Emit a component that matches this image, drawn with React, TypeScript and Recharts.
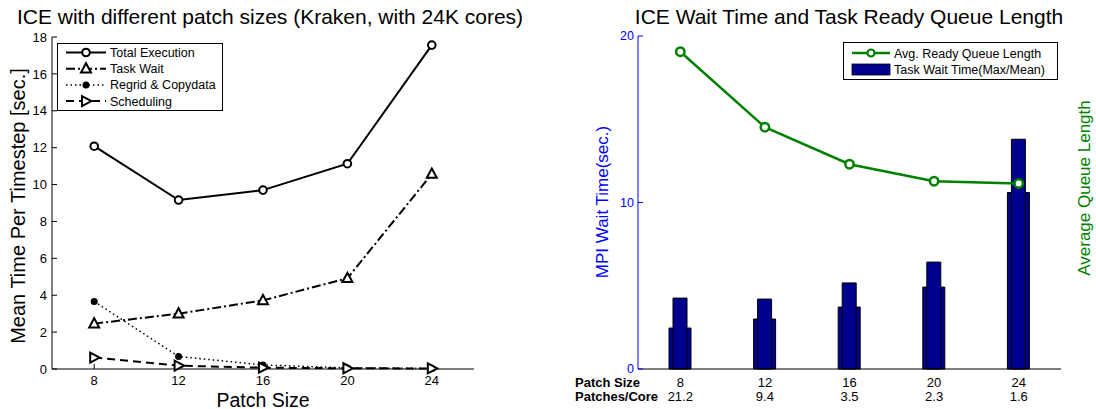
import React from "react";
import { LineChart, ComposedChart, Line, Bar, XAxis, YAxis, Legend } from "recharts";

const FONT = "'Liberation Sans', Arial, Helvetica, sans-serif";

// left panel: mean time per timestep [sec.]
const patchSizes = [8, 12, 16, 20, 24];
const totalExecution = [12.08, 9.16, 9.7, 11.13, 17.56];
const taskWait = [2.46, 3.0, 3.72, 4.92, 10.57];
const regridCopydata = [3.66, 0.68, 0.22, 0.06, 0.03];
const scheduling = [0.62, 0.18, 0.07, 0.04, 0.03];
const leftTicksY = [0, 2, 4, 6, 8, 10, 12, 14, 16, 18];

// right panel: wait time bars + ready queue line
const patchesPerCore = ["21.2", "9.4", "3.5", "2.3", "1.6"];
const waitMean = [2.46, 3.0, 3.72, 4.92, 10.6];
const waitMax = [4.26, 4.2, 5.17, 6.42, 13.8];
const readyQueueLength = [8.15, 4.07, 2.07, 1.15, 1.03];

const leftData = patchSizes.map((size, i) => ({
  size,
  total: totalExecution[i],
  wait: taskWait[i],
  regrid: regridCopydata[i],
  sched: scheduling[i],
}));

const rightData = patchSizes.map((size, i) => ({
  size: String(size),
  ppc: patchesPerCore[i],
  mean: waitMean[i],
  max: waitMax[i],
  queue: readyQueueLength[i],
}));

const leftSeries = [
  { key: "total", name: "Total Execution", dash: undefined, width: 2, marker: "circle" },
  { key: "wait", name: "Task Wait", dash: "9 3 2 3", width: 2, marker: "triUp" },
  { key: "regrid", name: "Regrid & Copydata", dash: "1.5 3", width: 1.5, marker: "dot" },
  { key: "sched", name: "Scheduling", dash: "8 5", width: 2, marker: "triRight" },
];

const BAR_FILL = "#00008f";
const GREEN = "#008000";
const BLUE = "#0000ff";

function Marker({ kind, cx, cy }: { kind: string; cx?: number; cy?: number }) {
  if (cx == null || cy == null) return null;
  switch (kind) {
    case "circle":
      return <circle cx={cx} cy={cy} r={3.8} fill="#fff" stroke="#000" strokeWidth={2} />;
    case "triUp":
      return (
        <path
          d={`M${cx},${cy - 5.5}L${cx + 5},${cy + 3.8}L${cx - 5},${cy + 3.8}Z`}
          fill="#fff"
          stroke="#000"
          strokeWidth={2}
        />
      );
    case "dot":
      return <circle cx={cx} cy={cy} r={3.5} fill="#000" />;
    case "triRight":
      return (
        <path
          d={`M${cx + 5.5},${cy}L${cx - 4},${cy - 5}L${cx - 4},${cy + 5}Z`}
          fill="#fff"
          stroke="#000"
          strokeWidth={2}
        />
      );
    default:
      return null;
  }
}

function LeftLegendBox() {
  return (
    <svg width={166} height={68} style={{ display: "block" }}>
      <rect x={0.5} y={0.5} width={165} height={67} fill="#fff" stroke="#000" strokeWidth={1} />
      {leftSeries.map((s, i) => {
        const y = 9.5 + i * 16.2;
        return (
          <g key={s.key}>
            <line x1={9} x2={49} y1={y} y2={y} stroke="#000" strokeWidth={s.width} strokeDasharray={s.dash} />
            <Marker kind={s.marker} cx={29} cy={y} />
            <text x={53} y={y + 4.5} fontSize={12.5} fontFamily={FONT} fill="#000">
              {s.name}
            </text>
          </g>
        );
      })}
    </svg>
  );
}

function RightLegendBox() {
  return (
    <svg width={215} height={38} style={{ display: "block" }}>
      <rect x={0.5} y={0.5} width={214} height={37} fill="#fff" stroke="#000" strokeWidth={1} />
      <line x1={9} x2={47} y1={11} y2={11} stroke={GREEN} strokeWidth={2.5} />
      <circle cx={28} cy={11} r={3.5} fill="#fff" stroke={GREEN} strokeWidth={2.2} />
      <text x={51} y={15.5} fontSize={12.5} fontFamily={FONT} fill="#000">
        Avg. Ready Queue Length
      </text>
      <rect x={9} y={22} width={38} height={11} fill={BAR_FILL} stroke="#000" strokeWidth={0.8} />
      <text x={51} y={31.5} fontSize={12.5} fontFamily={FONT} fill="#000">
        Task Wait Time(Max/Mean)
      </text>
    </svg>
  );
}

function PatchTick(props: any) {
  const { x, y, payload, index } = props;
  return (
    <g fontFamily={FONT} fontSize={13} fill="#000">
      {index === 0 && (
        <>
          <text x={35} y={y + 18} fontWeight="bold" fill="#000">
            Patch Size
          </text>
          <text x={35} y={y + 32} fontWeight="bold" fill="#000">
            Patches/Core
          </text>
        </>
      )}
      <text x={x} y={y + 18} textAnchor="middle" fill="#000">
        {payload.value}
      </text>
      <text x={x} y={y + 32} textAnchor="middle" fill="#000">
        {patchesPerCore[index]}
      </text>
    </g>
  );
}

const tickFont = { fontSize: 13, fontFamily: FONT, fill: "#000" };

export default function App() {
  return (
    <div
      style={{
        position: "absolute",
        left: 0,
        top: 0,
        width: 1096,
        height: 409,
        background: "#fff",
        fontFamily: FONT,
        overflow: "hidden",
      }}
    >
      <div style={{ position: "absolute", left: 0, top: 0 }}>
        <LineChart width={540} height={409} data={leftData} margin={{ top: 37, right: 66, bottom: 0, left: 0 }}>
          <XAxis
            dataKey="size"
            type="number"
            domain={[6, 26]}
            ticks={patchSizes}
            height={40}
            tickSize={-5}
            tickMargin={12}
            stroke="#000"
            tick={tickFont}
          />
          <XAxis
            xAxisId="top"
            dataKey="size"
            type="number"
            domain={[6, 26]}
            ticks={patchSizes}
            orientation="top"
            height={0}
            tickSize={-5}
            tick={false}
            stroke="#000"
          />
          <YAxis
            domain={[0, 18]}
            ticks={leftTicksY}
            width={52}
            tickSize={-5}
            tickMargin={10}
            stroke="#000"
            tick={tickFont}
          />
          <YAxis
            yAxisId="r"
            orientation="right"
            domain={[0, 18]}
            ticks={leftTicksY}
            width={0}
            tickSize={-5}
            tick={false}
            stroke="#000"
          />
          {leftSeries.map((s) => (
            <Line
              key={s.key}
              dataKey={s.key}
              name={s.name}
              stroke="#000"
              strokeWidth={s.width}
              strokeDasharray={s.dash}
              isAnimationActive={false}
              activeDot={false}
              dot={(p: any) => <Marker key={`${s.key}-${p.index}`} kind={s.marker} cx={p.cx} cy={p.cy} />}
            />
          ))}
          <Legend
            layout="vertical"
            verticalAlign="middle"
            align="center"
            wrapperStyle={{ left: 57, top: 43, width: 166, height: 68 }}
            content={() => <LeftLegendBox />}
          />
        </LineChart>
      </div>

      <div style={{ position: "absolute", left: 540, top: 0 }}>
        <ComposedChart width={556} height={409} data={rightData} margin={{ top: 36, right: 35, bottom: 0, left: 58 }}>
          <XAxis
            xAxisId="main"
            dataKey="size"
            height={40}
            tickSize={0}
            tickMargin={0}
            tickLine={false}
            stroke="#000"
            tick={<PatchTick />}
            interval={0}
          />
          <XAxis
            xAxisId="top"
            dataKey="size"
            orientation="top"
            height={0}
            tickSize={-5}
            tick={false}
            stroke="#000"
          />
          <YAxis
            yAxisId="left"
            domain={[0, 20]}
            ticks={[0, 10, 20]}
            width={40}
            tickSize={-5}
            tickMargin={9}
            stroke={BLUE}
            tick={{ ...tickFont, fontSize: 12.5, fill: BLUE }}
          />
          <YAxis
            yAxisId="right"
            orientation="right"
            domain={[-9, 9]}
            ticks={[0, 5]}
            width={0}
            tickSize={-5}
            tickMargin={9}
            axisLine={{ stroke: "#1d5b87", strokeWidth: 1.5 }}
            tickLine={{ stroke: GREEN }}
            tick={{ ...tickFont, fill: GREEN }}
          />
          <Bar
            xAxisId="main"
            yAxisId="left"
            dataKey="mean"
            barSize={22}
            fill={BAR_FILL}
            stroke="#000"
            strokeWidth={1}
            isAnimationActive={false}
          />
          <Bar
            xAxisId="top"
            yAxisId="left"
            dataKey="max"
            barSize={14}
            fill={BAR_FILL}
            stroke="#000"
            strokeWidth={1}
            isAnimationActive={false}
          />
          <Line
            xAxisId="main"
            yAxisId="right"
            dataKey="queue"
            stroke={GREEN}
            strokeWidth={2.5}
            isAnimationActive={false}
            activeDot={false}
            dot={(p: any) =>
              p.cx == null ? null : (
                <circle key={`q-${p.index}`} cx={p.cx} cy={p.cy} r={4.2} fill="#fff" stroke={GREEN} strokeWidth={2.5} />
              )
            }
          />
          <Legend
            layout="vertical"
            verticalAlign="middle"
            align="center"
            wrapperStyle={{ left: 303, top: 42, width: 215, height: 38 }}
            content={() => <RightLegendBox />}
          />
        </ComposedChart>
      </div>

      <svg
        width={1096}
        height={409}
        style={{ position: "absolute", left: 0, top: 0, pointerEvents: "none" }}
        fontFamily={FONT}
      >
        <text x={270} y={24} fontSize={21} textAnchor="middle" fill="#000">
          ICE with different patch sizes (Kraken, with 24K cores)
        </text>
        <text x={849} y={24} fontSize={21} textAnchor="middle" fill="#000">
          ICE Wait Time and Task Ready Queue Length
        </text>
        <text x={263} y={406.5} fontSize={19.5} textAnchor="middle" fill="#000">
          Patch Size
        </text>
        <text x={25} y={206} fontSize={20} textAnchor="middle" fill="#000" transform="rotate(-90 25 206)">
          Mean Time Per Timestep [sec.]
        </text>
        <text x={608} y={202} fontSize={17} textAnchor="middle" fill={BLUE} transform="rotate(-90 608 202)">
          MPI Wait Time(sec.)
        </text>
        <text x={1090} y={188} fontSize={17} textAnchor="middle" fill={GREEN} transform="rotate(-90 1090 188)">
          Average Queue Length
        </text>
      </svg>
    </div>
  );
}
